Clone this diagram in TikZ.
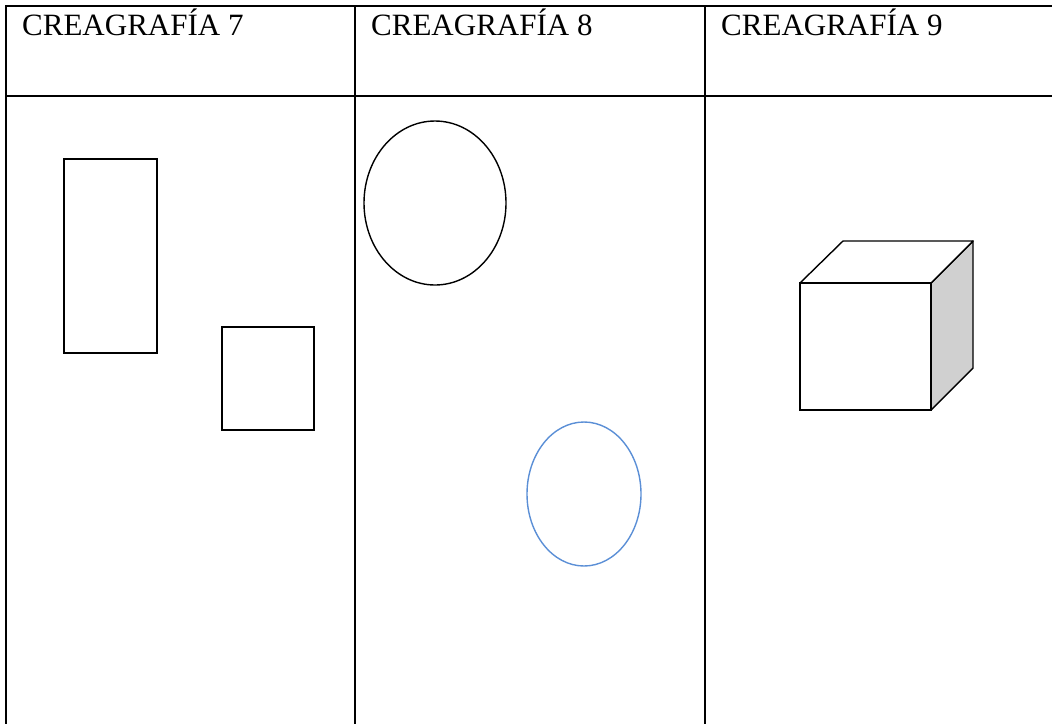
\documentclass[tikz,border=0pt]{standalone}
\usepackage{fontspec}
\setmainfont{Liberation Serif}
\definecolor{blueell}{RGB}{91,143,214}
\definecolor{sidegray}{RGB}{208,208,208}
\begin{document}
\begin{tikzpicture}[x=1pt,y=-1pt,
  grid/.style={line width=2pt},
  figline/.style={line width=1.4pt},
  head/.style={anchor=base west, inner sep=0pt, font=\fontsize{31}{36}\selectfont}]
\useasboundingbox (0,0) rectangle (1052,724);
% table lines
\draw[grid] (1052,6) -- (6,6) -- (6,724);
\draw[grid] (6,96) -- (1052,96);
\draw[grid] (355,6) -- (355,724);
\draw[grid] (705,6) -- (705,724);
% headers
\node[head] (h7) at (22,35) {CREAGRAFÍA 7};
\node[head] (h8) at (371,35) {CREAGRAFÍA 8};
\node[head] (h9) at (721,35) {CREAGRAFÍA 9};
% column 1
\draw[figline] (64,159) rectangle (157,353);
\draw[figline] (222,327) rectangle (314,430);
% column 2
\draw[figline] (435,203) ellipse [x radius=71, y radius=82];
\draw[figline, draw=blueell] (584,494) ellipse [x radius=57, y radius=72];
% column 3 cube
\draw[figline, fill=sidegray, line join=round] (931,283) -- (973,241) -- (973,368) -- (931,410) -- cycle;
\draw[figline, fill=white, line join=round] (800,283) -- (843,241) -- (973,241) -- (931,283) -- cycle;
\draw[figline, fill=white] (800,283) rectangle (931,410);
\end{tikzpicture}
\end{document}
